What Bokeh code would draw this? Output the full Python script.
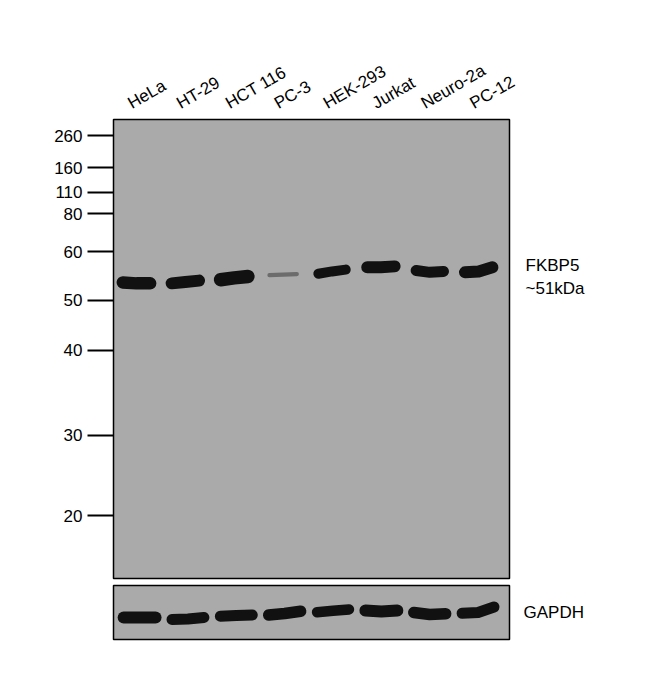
import math

from bokeh.embed import file_html
from bokeh.layouts import column
from bokeh.models import (ColumnDataSource, FixedTicker, LinearAxis,
                          Range1d)
from bokeh.plotting import figure
from bokeh.resources import INLINE

lanes = ["HeLa", "HT-29", "HCT 116", "PC-3",
         "HEK-293", "Jurkat", "Neuro-2a", "PC-12"]

# ladder: kDa and migration (% of membrane height, from the top)
marker_kda = [260, 160, 110, 80, 60, 50, 40, 30, 20]
marker_rf = [3.5, 10.5, 15.9, 20.5, 28.8, 39.4, 50.3, 68.8, 86.3]

# FKBP5 band migration at left edge / centre / right edge of each lane
fkbp5_rf_left = [35.5, 35.7, 34.9, 33.9, 33.6, 32.2, 32.9, 33.3]
fkbp5_rf_mid = [35.7, 35.4, 34.5, 33.8, 33.1, 32.2, 33.3, 33.1]
fkbp5_rf_right = [35.7, 35.1, 34.2, 33.7, 32.7, 32.0, 33.1, 32.2]
fkbp5_signal = [0.95, 0.9, 1.05, 0.12, 0.7, 0.9, 0.8, 0.9]

# GAPDH loading control (migration as % of strip height)
gapdh_rf_left = [59.3, 63.0, 57.0, 54.6, 49.4, 46.3, 50.0, 51.5]
gapdh_rf_mid = [59.3, 62.0, 55.6, 51.9, 46.9, 48.1, 53.7, 50.0]
gapdh_rf_right = [59.3, 59.3, 54.6, 47.6, 44.4, 46.3, 52.4, 39.8]
gapdh_signal = [0.9, 0.8, 0.8, 0.85, 0.75, 0.9, 0.85, 0.8]

# right-hand annotations
target_rf = [31.8, 36.8]
target_text = ["FKBP5", "~51kDa"]

FONT = "Liberation Sans"


def band_source(left, mid, right, signal, half):
    xs, ys, widths, colors = [], [], [], []
    for i, s in enumerate(signal):
        lane = i + 1
        xs.append([lane - half, lane, lane + half])
        ys.append([left[i], mid[i], right[i]])
        widths.append(3 + 10 * s)
        grey = int(17 + max(0.0, 0.5 - s) * 240)
        colors.append("#%02x%02x%02x" % (grey, grey, grey))
    return ColumnDataSource(dict(xs=xs, ys=ys, width=widths, color=colors))


def panel(height, x_range, top, bottom):
    p = figure(frame_width=396, frame_height=height,
               x_range=x_range, y_range=Range1d(100, 0),
               x_axis_location=None, y_axis_location=None,
               toolbar_location=None, output_backend="svg",
               min_border_left=113, min_border_right=121,
               min_border_top=top, min_border_bottom=bottom,
               background_fill_color="#aaaaaa",
               border_fill_color="white",
               outline_line_color="black", outline_line_width=1.5)
    p.grid.visible = False
    return p


def text_axis(axis, size, standoff):
    axis.axis_line_color = None
    axis.minor_tick_line_color = None
    axis.major_tick_line_color = None
    axis.major_tick_in = 0
    axis.major_tick_out = 0
    axis.major_label_standoff = standoff
    axis.major_label_text_font = FONT
    axis.major_label_text_font_size = size
    axis.major_label_text_color = "black"


def plot():
    main_x = Range1d(0.53, 8.63)
    main = panel(459, main_x, 119, 4)

    # molecular weight ladder
    ladder = LinearAxis(ticker=FixedTicker(ticks=marker_rf))
    ladder.major_label_overrides = {rf: str(kda) for rf, kda
                                    in zip(marker_rf, marker_kda)}
    text_axis(ladder, "17px", 5)
    ladder.major_tick_out = 26
    ladder.major_tick_line_width = 2
    ladder.major_tick_line_color = "black"
    main.add_layout(ladder, "left")

    # lane names, slanted above the membrane
    main.extra_x_ranges = {"names": Range1d(main_x.start + 0.15,
                                            main_x.end + 0.15)}
    names = LinearAxis(x_range_name="names",
                       ticker=FixedTicker(ticks=list(range(1, len(lanes) + 1))))
    names.major_label_overrides = {i + 1: name for i, name in enumerate(lanes)}
    names.major_label_orientation = math.pi / 6
    text_axis(names, "17px", 15)
    main.add_layout(names, "above")

    target = LinearAxis(ticker=FixedTicker(ticks=target_rf))
    target.major_label_overrides = dict(zip(target_rf, target_text))
    text_axis(target, "17px", 16)
    main.add_layout(target, "right")

    fkbp5 = band_source(fkbp5_rf_left, fkbp5_rf_mid, fkbp5_rf_right,
                        fkbp5_signal, 0.28)
    main.multi_line("xs", "ys", source=fkbp5,
                    line_width="width", line_color="color",
                    line_cap="round", line_join="round")

    gapdh_x = Range1d(0.46, 8.65)
    strip = panel(54, gapdh_x, 3, 10)

    control = LinearAxis(ticker=FixedTicker(ticks=[50]))
    control.major_label_overrides = {50: "GAPDH"}
    text_axis(control, "17px", 14)
    strip.add_layout(control, "right")

    gapdh = band_source(gapdh_rf_left, gapdh_rf_mid, gapdh_rf_right,
                        gapdh_signal, 0.33)
    strip.multi_line("xs", "ys", source=gapdh,
                     line_width="width", line_color="color",
                     line_cap="round", line_join="round")

    layout = column(main, strip)
    open("out.html", "w").write(file_html(layout, INLINE))


if __name__ == "__main__":
    plot()
